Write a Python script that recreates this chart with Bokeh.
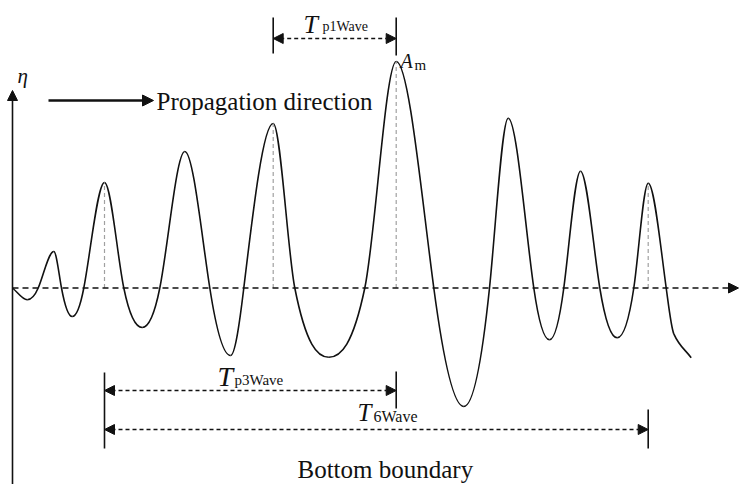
import math
import numpy as np
from bokeh.plotting import figure
from bokeh.models import Arrow, NormalHead, Range1d, ColumnDataSource
from bokeh.core.properties import value
from bokeh.embed import file_html
from bokeh.resources import INLINE

# Surface elevation record: knots at start, troughs, crests and zero crossings
t = [12, 26.7, 37.7, 53.3, 61, 71.7, 83.3, 104, 123.3, 141.7, 159.3, 184.3,
     209.3, 230, 243.3, 272.7, 294.3, 328.3, 364.3, 395.7, 433.3, 463.3, 489,
     507.7, 533.3, 549, 563.3, 580, 599.3, 616.7, 633.3, 647.7, 665.7, 673.3,
     690.7]
eta = [0, -11.8, 0, 36.5, 0, -28.5, 0, 105.5, 0, -39.5, 0, 136.5,
       0, -67.5, 0, 164.5, 0, -69.2, 0, 226.5, 0, -118.5, 0,
       169.8, 0, -51.8, 0, 116.8, 0, -49.8, 0, 104.8, 0, -45.8,
       -69.8]

# Crests marked with a dashed drop line
marked_crests = [104, 272.7, 395.7, 647.7]

# Period annotations: start crest, end crest
period_p1 = [272.7, 395.7]
period_p3 = [104, 395.7]
period_6 = [104, 647.7]

SERIF = value("Liberation Serif")
INK = "#111111"

p = figure(width=745, height=484, x_range=Range1d(0, 745),
           y_range=Range1d(-196.5, 287.5), output_backend="svg",
           toolbar_location=None, min_border=0,
           x_axis_type=None, y_axis_type=None)
p.grid.visible = False
p.outline_line_color = None
p.background_fill_color = "white"
p.border_fill_color = "white"

# ---- smooth wave curve: cubic Hermite pieces drawn as Bezier segments ----
tt = np.array(t, dtype=float)
ee = np.array(eta, dtype=float)
n = len(tt)


def is_extremum(i):
    if i <= 0 or i >= n - 1:
        return False
    return (ee[i] - ee[i - 1]) * (ee[i + 1] - ee[i]) < 0


slope = np.zeros(n)
for i in range(n):
    if i == 0:
        slope[i] = (ee[1] - ee[0]) / (tt[1] - tt[0])
    elif i == n - 1:
        slope[i] = (ee[-1] - ee[-2]) / (tt[-1] - tt[-2])
    elif is_extremum(i):
        slope[i] = 0.0
    else:
        left = (ee[i] - ee[i - 1]) / (tt[i] - tt[i - 1])
        right = (ee[i + 1] - ee[i]) / (tt[i + 1] - tt[i])
        if is_extremum(i - 1):
            left *= math.pi / 2
        if is_extremum(i + 1):
            right *= math.pi / 2
        # harmonic mean keeps the flank from overshooting the shallower side
        slope[i] = 2.0 / (1.0 / left + 1.0 / right)

dx = tt[1:] - tt[:-1]
curve = ColumnDataSource(dict(
    x0=tt[:-1], y0=ee[:-1], x1=tt[1:], y1=ee[1:],
    cx0=tt[:-1] + dx / 3, cy0=ee[:-1] + slope[:-1] * dx / 3,
    cx1=tt[1:] - dx / 3, cy1=ee[1:] - slope[1:] * dx / 3,
))
p.bezier(x0="x0", y0="y0", x1="x1", y1="y1", cx0="cx0", cy0="cy0",
         cx1="cx1", cy1="cy1", source=curve, line_color=INK, line_width=1.6)

# ---- dashed drop lines from the marked crests ----
crest_eta = [eta[t.index(c)] for c in marked_crests]
p.segment(x0=marked_crests, y0=[0] * len(marked_crests),
          x1=marked_crests, y1=crest_eta,
          line_color="#a0a0a0", line_width=1.2, line_dash="4 3")

# ---- axes: still-water line and eta axis ----
p.add_layout(Arrow(x_start=12, y_start=0, x_end=738, y_end=0,
                   line_color=INK, line_width=1.6, line_dash="6 4",
                   end=NormalHead(size=10, fill_color=INK, line_color=INK)))
p.add_layout(Arrow(x_start=12, y_start=-200, x_end=12, y_end=197.5,
                   line_color=INK, line_width=1.6,
                   end=NormalHead(size=10, fill_color=INK, line_color=INK)))

# propagation direction arrow
p.add_layout(Arrow(x_start=48, y_start=187.5, x_end=153, y_end=187.5,
                   line_color=INK, line_width=2.4,
                   end=NormalHead(size=11, fill_color=INK, line_color=INK)))


# ---- period dimension lines ----
def dimension(x_a, x_b, y):
    p.add_layout(Arrow(x_start=x_a, y_start=y, x_end=x_b, y_end=y,
                       line_color=INK, line_width=1.4, line_dash="4 3",
                       start=NormalHead(size=10, fill_color=INK, line_color=INK),
                       end=NormalHead(size=10, fill_color=INK, line_color=INK)))


dimension(period_p1[0], period_p1[1], 249.5)
dimension(period_p3[0], period_p3[1], -102.5)
dimension(period_6[0], period_6[1], -141.5)

# extension bars at the period ends
p.segment(x0=[period_p1[0], period_p1[1], period_p3[0], period_p3[1], period_6[1]],
          y0=[270.5, 270.5, -84.5, -83.5, -121.5],
          x1=[period_p1[0], period_p1[1], period_p3[0], period_p3[1], period_6[1]],
          y1=[234.5, 232.5, -160.5, -120.5, -160.5],
          line_color=INK, line_width=1.6)


# ---- labels ----
def label(x, y, txt, size, italic=False):
    p.text(x=[x], y=[y], text=[txt], text_font=SERIF,
           text_font_size=f"{size}px",
           text_font_style="italic" if italic else "normal",
           text_color=INK, text_align="left", text_baseline="alphabetic")


label(17, 212.5, "η", 21, italic=True)
label(156, 186.5, "Propagation direction", 25)

label(303, 263.5, "T", 26, italic=True)
label(322, 261.5, "p1Wave", 14)

label(400, 227.5, "A", 20, italic=True)
label(414, 223.5, "m", 15)

label(217, -88.5, "T", 28, italic=True)
label(234, -91.5, "p3Wave", 15)

label(357, -124.5, "T", 25, italic=True)
label(373, -128.5, "6Wave", 16)

label(297, -181.5, "Bottom boundary", 25)

open("out.html", "w").write(file_html(p, INLINE))
